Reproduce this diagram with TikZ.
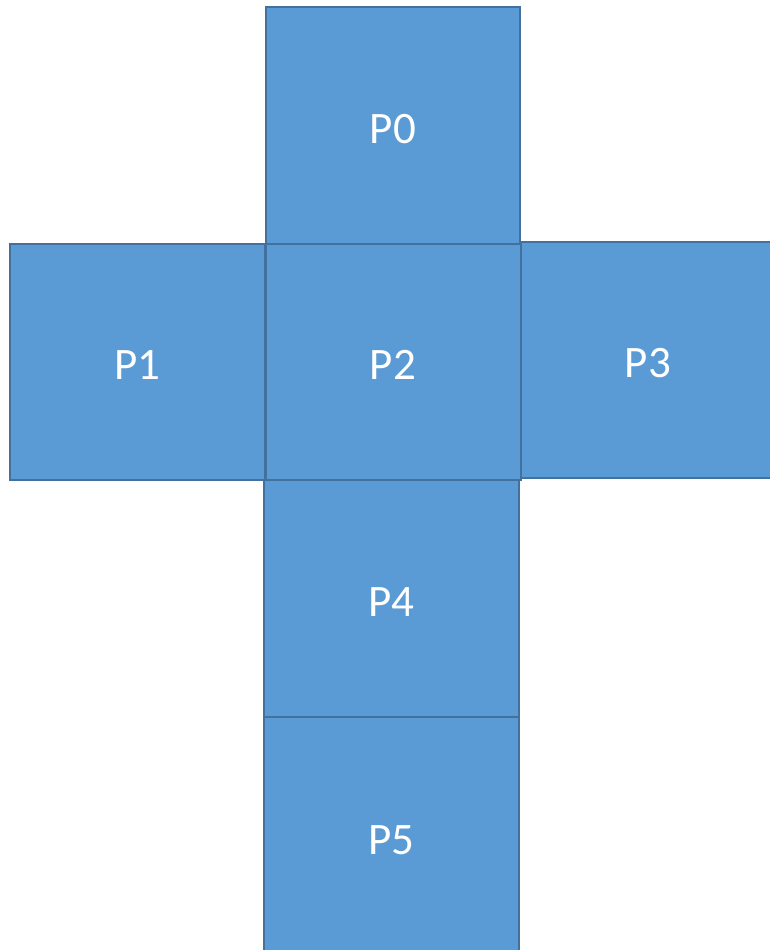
\documentclass[tikz,border=0pt]{standalone}
\usepackage{fontspec}
\setmainfont{Carlito}
\definecolor{facefill}{HTML}{5B9BD5}
\definecolor{faceline}{HTML}{41719C}
\begin{document}
\begin{tikzpicture}[x=1pt,y=-1pt,
  face/.style={draw=faceline,fill=facefill,line width=2pt,inner sep=0pt,
    text=white,font=\fontsize{45}{50}\selectfont,text height=35pt,text depth=0pt},
]
\useasboundingbox (0,0) rectangle (770,950);
\clip (0,0) rectangle (770,950);
\node[face,minimum width=254pt,minimum height=236pt] (p0) at (393,125.5) {P0};
\node[face,minimum width=255pt,minimum height=236pt] (p1) at (137.5,362) {P1};
\node[face,minimum width=254pt,minimum height=236pt] (p3) at (648,360) {P3};
\node[face,minimum width=254.5pt,minimum height=237pt] (p4) at (391.3,598.5) {P4};
\node[face,minimum width=254.5pt,minimum height=240pt] (p5) at (391.3,837) {P5};
\node[face,minimum width=255pt,minimum height=236pt] (p2) at (393,362) {P2};
\end{tikzpicture}
\end{document}
